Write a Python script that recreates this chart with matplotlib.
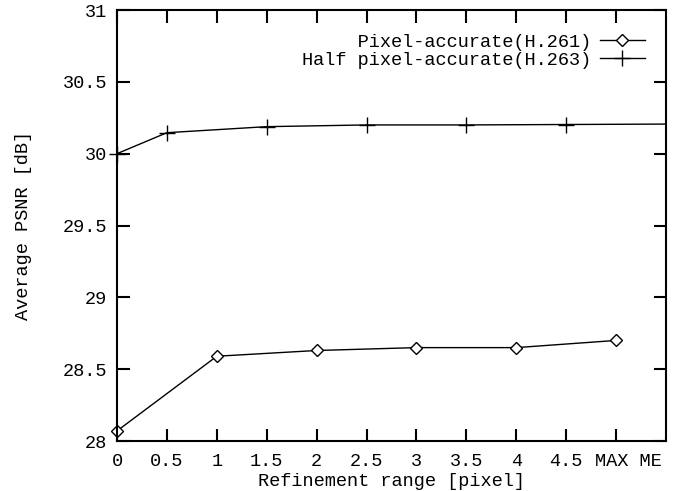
import matplotlib
matplotlib.use("Agg")
import matplotlib.pyplot as plt
from matplotlib.transforms import ScaledTranslation

# data
x_pix = [0, 1, 2, 3, 4, 5]
psnr_pix = [28.07, 28.59, 28.63, 28.65, 28.65, 28.70]
x_half = [0, 0.5, 1.5, 2.5, 3.5, 4.5, 5.5]
psnr_half = [30.0, 30.146, 30.188, 30.20, 30.20, 30.203, 30.206]

xticks = [0, 0.5, 1, 1.5, 2, 2.5, 3, 3.5, 4, 4.5, 5]
xticklabels = ["0", "0.5", "1", "1.5", "2", "2.5", "3", "3.5", "4", "4.5", "MAX ME"]
yticks = [28, 28.5, 29, 29.5, 30, 30.5, 31]
yticklabels = ["28", "28.5", "29", "29.5", "30", "30.5", "31"]

plt.rcParams['font.family'] = ['Liberation Mono', 'DejaVu Sans Mono']
plt.rcParams['font.size'] = 13.4

fig = plt.figure(figsize=(6.74, 4.91), dpi=100)
ax = fig.add_axes([117/674, 1-441/491, 549/674, 431/491])

ax.plot(x_pix, psnr_pix, color='black', lw=1.0, marker='D', ms=6.5,
        mfc='white', mec='black', mew=1.0, label="     Pixel-accurate(H.261)", clip_on=False)
# last point sits on the right border, gnuplot shows no mark there
ax.plot(x_half, psnr_half, color='black', lw=1.0, marker='+', ms=12,
        mew=1.0, markevery=slice(0, -1), label="Half pixel-accurate(H.263)", clip_on=False)

ax.set_xlim(0, 5.5)
ax.set_ylim(28, 31)
ax.set_xticks(xticks)
ax.set_xticklabels(xticklabels)
ax.set_yticks(yticks)
ax.set_yticklabels(yticklabels)
ax.tick_params(direction='in', length=9, width=1.5, top=True, right=True)
ax.tick_params(axis='x', pad=9)
ax.tick_params(axis='y', pad=7)
for s in ax.spines.values():
    s.set_linewidth(1.5)

# MAX ME label sits a bit right of its tick in the original
lab = ax.get_xticklabels()[-1]
lab.set_transform(lab.get_transform() + ScaledTranslation(0.12, 0, fig.dpi_scale_trans))

ax.set_xlabel("Refinement range [pixel]", labelpad=2)
ax.set_ylabel("Average PSNR [dB]", labelpad=22)

leg = ax.legend(loc='upper right', frameon=False, markerfirst=False,
                handlelength=2.4, handletextpad=0.5, labelspacing=0.05,
                bbox_to_anchor=(0.985, 0.975), borderaxespad=0.3)

fig.savefig("out.png", dpi=100)
